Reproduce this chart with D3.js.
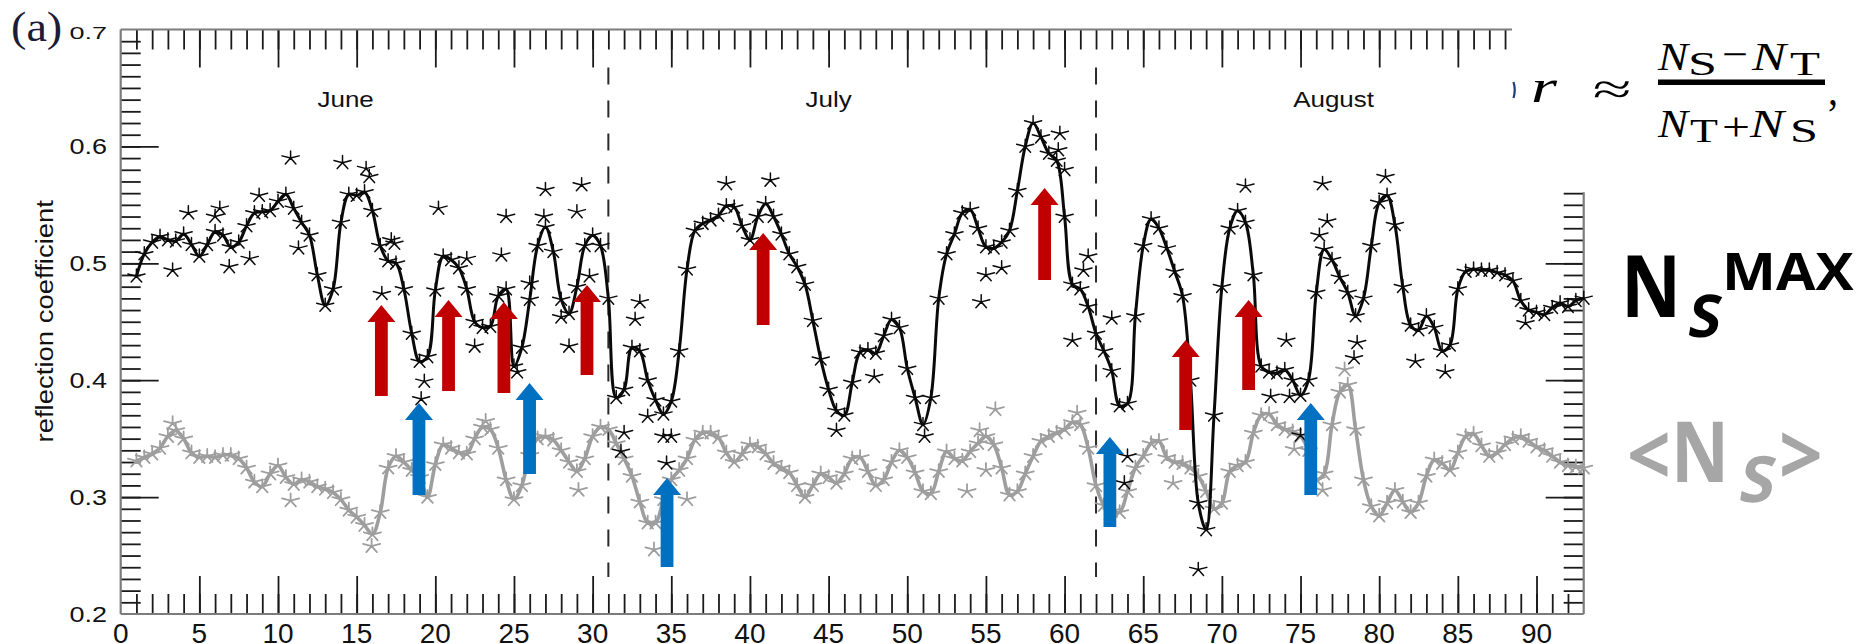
<!DOCTYPE html>
<html>
<head>
<meta charset="utf-8">
<script src="https://cdn.jsdelivr.net/npm/d3@7"></script>
<style>
  html, body { margin: 0; padding: 0; background: #fff; }
  svg { display: block; }
</style>
</head>
<body>
<svg id="chart" width="1856" height="644"></svg>
<script>
// ---------------------------------------------------------------
// Data: reflection coefficient, one sample every 12 h (day 1 .. 93)
// ---------------------------------------------------------------
const sampleDays = d3.range(1, 93.001, 0.5);

// N_S^MAX based reflection coefficient (black curve)
const nsMax = [
  0.489, 0.508, 0.518, 0.523, 0.520, 0.519, 0.525, 0.516, 0.506, 0.516,
  0.527, 0.524, 0.514, 0.518, 0.532, 0.543, 0.544, 0.545, 0.553, 0.559,
  0.547, 0.535, 0.524, 0.490, 0.464, 0.478, 0.535, 0.559, 0.558, 0.561,
  0.545, 0.515, 0.502, 0.500, 0.478, 0.440, 0.416, 0.420, 0.477, 0.506,
  0.503, 0.496, 0.478, 0.450, 0.445, 0.446, 0.472, 0.478, 0.412, 0.428,
  0.469, 0.515, 0.531, 0.510, 0.469, 0.457, 0.480, 0.515, 0.524, 0.515,
  0.470, 0.385, 0.392, 0.428, 0.425, 0.400, 0.383, 0.371, 0.382, 0.425,
  0.495, 0.528, 0.534, 0.537, 0.541, 0.549, 0.548, 0.532, 0.520, 0.540,
  0.551, 0.540, 0.525, 0.508, 0.497, 0.482, 0.451, 0.418, 0.392, 0.374,
  0.370, 0.398, 0.424, 0.426, 0.423, 0.438, 0.452, 0.445, 0.410, 0.385,
  0.362, 0.385, 0.470, 0.508, 0.525, 0.543, 0.546, 0.530, 0.514, 0.513,
  0.518, 0.528, 0.562, 0.600, 0.620, 0.608, 0.594, 0.588, 0.540, 0.482,
  0.478, 0.463, 0.440, 0.425, 0.408, 0.378, 0.380, 0.455, 0.515, 0.538,
  0.530, 0.513, 0.493, 0.472, 0.400, 0.295, 0.272, 0.370, 0.480, 0.530,
  0.545, 0.535, 0.490, 0.412, 0.407, 0.406, 0.409, 0.400, 0.387, 0.400,
  0.475, 0.512, 0.503, 0.488, 0.475, 0.455, 0.470, 0.515, 0.552, 0.558,
  0.533, 0.480, 0.447, 0.443, 0.455, 0.445, 0.425, 0.430, 0.478, 0.493,
  0.495, 0.494, 0.494, 0.492, 0.490, 0.485, 0.468, 0.460, 0.458, 0.456,
  0.462, 0.466, 0.463, 0.468, 0.470
];

// <N_S> based reflection coefficient (grey curve)
const nsMean = [
  0.331, 0.334, 0.337, 0.342, 0.352, 0.357, 0.350, 0.338, 0.334, 0.335,
  0.334, 0.336, 0.336, 0.333, 0.325, 0.313, 0.309, 0.320, 0.327, 0.317,
  0.311, 0.315, 0.313, 0.309, 0.307, 0.304, 0.298, 0.289, 0.283, 0.276,
  0.268, 0.287, 0.325, 0.335, 0.330, 0.323, 0.317, 0.300, 0.328, 0.345,
  0.342, 0.338, 0.337, 0.350, 0.360, 0.358, 0.342, 0.315, 0.298, 0.310,
  0.336, 0.350, 0.352, 0.349, 0.340, 0.330, 0.322, 0.333, 0.352, 0.360,
  0.358, 0.346, 0.333, 0.318, 0.296, 0.278, 0.278, 0.298, 0.315, 0.323,
  0.333, 0.349, 0.355, 0.355, 0.351, 0.338, 0.330, 0.337, 0.345, 0.343,
  0.337, 0.329, 0.325, 0.321, 0.310, 0.300, 0.310, 0.320, 0.317, 0.312,
  0.320, 0.333, 0.334, 0.322, 0.310, 0.315, 0.330, 0.340, 0.334, 0.321,
  0.305, 0.303, 0.322, 0.339, 0.333, 0.331, 0.339, 0.346, 0.352, 0.345,
  0.325, 0.302, 0.305, 0.320, 0.335, 0.348, 0.352, 0.355, 0.358, 0.364,
  0.362, 0.342, 0.310, 0.293, 0.288, 0.287, 0.305, 0.325, 0.335, 0.346,
  0.348, 0.334, 0.330, 0.329, 0.325, 0.318, 0.305, 0.290, 0.295, 0.322,
  0.327, 0.330, 0.355, 0.370, 0.371, 0.362, 0.358, 0.356, 0.352, 0.340,
  0.315, 0.320, 0.362, 0.390, 0.396, 0.358, 0.315, 0.292, 0.284, 0.295,
  0.306, 0.296, 0.287, 0.295, 0.318, 0.332, 0.329, 0.323, 0.338, 0.352,
  0.354, 0.344, 0.335, 0.338, 0.345, 0.350, 0.352, 0.348, 0.343, 0.340,
  0.335, 0.330, 0.327, 0.326, 0.325
];

// individual estimates lying away from the smoothed curves: [day, value]
const nsMaxScatter = [
  [3.3, 0.494], [4.3, 0.543], [6.0, 0.540], [6.3, 0.547], [6.9, 0.497],
  [8.2, 0.504], [8.8, 0.558], [10.8, 0.590], [11.3, 0.513], [14.1, 0.586],
  [15.6, 0.581], [15.8, 0.574], [16.6, 0.474], [17.2, 0.520], [17.4, 0.517],
  [19.1, 0.384], [19.3, 0.399], [20.2, 0.547], [22.0, 0.504], [22.5, 0.429],
  [24.2, 0.507], [24.5, 0.540], [25.2, 0.407], [26.0, 0.483], [26.9, 0.540],
  [27.0, 0.563], [28.0, 0.454], [28.5, 0.429], [29.0, 0.544], [29.3, 0.567],
  [29.8, 0.489], [31.8, 0.339], [32.0, 0.355], [32.7, 0.452], [33.0, 0.467],
  [33.5, 0.369], [34.5, 0.352], [34.7, 0.329], [35.0, 0.352], [38.5, 0.568],
  [41.3, 0.571], [45.5, 0.357], [47.9, 0.403], [51.1, 0.352], [54.7, 0.467],
  [55.0, 0.490], [56.0, 0.496], [59.6, 0.597], [59.7, 0.611], [60.0, 0.580],
  [60.5, 0.434], [61.2, 0.494], [61.5, 0.506], [63.0, 0.453], [63.8, 0.312],
  [64.0, 0.335], [68.5, 0.238], [71.5, 0.566], [73.1, 0.386], [74.1, 0.434],
  [74.3, 0.386], [75.0, 0.353], [76.2, 0.524], [76.4, 0.568], [76.7, 0.536],
  [78.4, 0.419], [78.6, 0.432], [80.4, 0.574], [82.3, 0.416], [84.2, 0.407],
  [89.3, 0.449]
];

const nsMeanScatter = [
  [3.3, 0.363], [10.8, 0.297], [15.95, 0.258], [23.2, 0.365], [29.1, 0.306],
  [33.9, 0.255], [36.0, 0.298], [53.8, 0.305], [54.6, 0.357], [55.0, 0.323],
  [55.6, 0.375], [60.8, 0.372], [66.9, 0.312], [74.6, 0.341], [76.4, 0.306],
  [77.8, 0.409]
];

// calendar annotation
const monthNames   = ["June", "July", "August"];
const monthCenters = [14.3, 45.0, 77.1];
const monthBreaks  = [31, 62];

// axis labelling
const xTickLabels = d3.range(0, 91, 5);
const yTickLabels = [0.2, 0.3, 0.4, 0.5, 0.6];
const yTopLabel   = 0.7;

// highlighted events: [day, arrow tip value, arrow base value]
const redArrows = [
  [16.57, 0.4643, 0.3865], [20.84, 0.4686, 0.3908], [24.36, 0.4669, 0.3891],
  [29.64, 0.4814, 0.4044], [40.84, 0.5259, 0.4472], [58.73, 0.5644, 0.4857],
  [67.70, 0.4344, 0.3574], [71.70, 0.4686, 0.3916]
];
const blueArrows = [
  [18.96, 0.3805, 0.3018], [25.99, 0.3976, 0.3198], [34.73, 0.3163, 0.2402],
  [62.88, 0.3514, 0.2744], [75.65, 0.3805, 0.3018]
];

// ---------------------------------------------------------------
// Layout and scales
// ---------------------------------------------------------------
const plot = { left: 120.7, right: 1583.7, top: 29.5, bottom: 614 };
const x = d3.scaleLinear().domain([0, 93]).range([plot.left, plot.right]);
const y = d3.scaleLinear().domain([0.2, 0.7]).range([plot.bottom, plot.top]);

const svg = d3.select("#chart");
const sansFont = "'Liberation Sans', Arial, Helvetica, sans-serif";

// ---------------------------------------------------------------
// Axes: inward minor / major ticks on all four sides
// ---------------------------------------------------------------
const tickColor = "#1a1a1a";
function drawAxis(axis, tx, ty) {
  const g = svg.append("g").attr("transform", `translate(${tx},${ty})`).call(axis);
  g.select(".domain").remove();
  g.selectAll(".tick line").attr("stroke", tickColor).attr("stroke-width", 1.8);
  g.selectAll(".tick text").remove();
  return g;
}
const minorDays = d3.range(1, 93);
const majorDays = d3.range(5, 91, 5);
const minorVals = d3.range(21, 70).map(v => v / 100);
const majorVals = [0.3, 0.4, 0.5, 0.6];
const topLimitDay = 88;        // top ticks end where the formula panel begins
const rightLimitVal = 0.56;    // right ticks start below the formula panel

drawAxis(d3.axisBottom(x).tickValues(minorDays).tickSize(-20), 0, plot.bottom);
drawAxis(d3.axisBottom(x).tickValues(majorDays).tickSize(-38), 0, plot.bottom);
drawAxis(d3.axisTop(x).tickValues(minorDays.filter(d => d <= topLimitDay)).tickSize(-20), 0, plot.top);
drawAxis(d3.axisTop(x).tickValues(majorDays.filter(d => d <= topLimitDay)).tickSize(-38), 0, plot.top);
drawAxis(d3.axisLeft(y).tickValues(minorVals).tickSize(-20), plot.left, 0);
drawAxis(d3.axisLeft(y).tickValues(majorVals).tickSize(-38), plot.left, 0);
drawAxis(d3.axisRight(y).tickValues(minorVals.filter(v => v <= rightLimitVal + 1e-9)).tickSize(-20), plot.right, 0);
drawAxis(d3.axisRight(y).tickValues(majorVals.filter(v => v <= rightLimitVal)).tickSize(-38), plot.right, 0);

// frame
const frame = svg.append("g").attr("stroke", "#7c7c7c").attr("stroke-width", 2.2).attr("fill", "none");
frame.append("line").attr("x1", plot.left).attr("x2", plot.left).attr("y1", plot.top).attr("y2", plot.bottom);
frame.append("line").attr("x1", plot.left).attr("x2", plot.right).attr("y1", plot.bottom).attr("y2", plot.bottom);
frame.append("line").attr("x1", plot.right).attr("x2", plot.right).attr("y1", y(rightLimitVal) - 1).attr("y2", plot.bottom);
frame.append("line").attr("x1", plot.left).attr("x2", x(topLimitDay) + 7).attr("y1", plot.top).attr("y2", plot.top);

// tick labels
svg.append("g").selectAll("text").data(xTickLabels).join("text")
  .attr("transform", d => `translate(${x(d)},643)`)
  .attr("text-anchor", "middle")
  .attr("font-family", sansFont).attr("font-size", 28).attr("fill", "#111")
  .text(d => d);

svg.append("g").selectAll("text").data(yTickLabels).join("text")
  .attr("transform", d => `translate(107,${y(d)}) scale(1,0.8)`)
  .attr("text-anchor", "end").attr("dy", "0.36em")
  .attr("font-family", sansFont).attr("font-size", 27).attr("fill", "#111")
  .text(d => d3.format(".1f")(d));

svg.append("text")
  .attr("transform", `translate(107,${y(yTopLabel) + 3.5}) scale(1,0.62)`)
  .attr("text-anchor", "end").attr("dy", "0.36em")
  .attr("font-family", sansFont).attr("font-size", 27).attr("fill", "#111")
  .text(d3.format(".1f")(yTopLabel));

// y axis title
svg.append("text")
  .attr("transform", `translate(53,${(plot.top + plot.bottom) / 2 - 0.5}) rotate(-90) scale(1,0.9)`)
  .attr("text-anchor", "middle")
  .attr("font-family", sansFont).attr("font-size", 27.5).attr("fill", "#111")
  .text("reflection coefficient");

// panel tag
svg.append("text")
  .attr("transform", "translate(11,41) scale(1.1,1)")
  .attr("font-family", "'Liberation Serif', 'Times New Roman', serif")
  .attr("font-size", 42).attr("fill", "#1c1c38")
  .text("(a)");

// ---------------------------------------------------------------
// Month separators and names
// ---------------------------------------------------------------
svg.append("g").selectAll("line").data(monthBreaks).join("line")
  .attr("x1", d => x(d)).attr("x2", d => x(d))
  .attr("y1", plot.top + 38).attr("y2", plot.bottom - 37)
  .attr("stroke", "#2a2a2a").attr("stroke-width", 2)
  .attr("stroke-dasharray", "17,16");

svg.append("g").selectAll("text").data(monthNames).join("text")
  .attr("transform", (d, i) => `translate(${x(monthCenters[i])},107) scale(1,0.88)`)
  .attr("text-anchor", "middle")
  .attr("font-family", sansFont).attr("font-size", 26).attr("fill", "#111")
  .text(d => d);

// ---------------------------------------------------------------
// Series: smoothed curves with asterisk markers
// ---------------------------------------------------------------
const asterisk = {
  draw(context, size) {
    const r = Math.sqrt(size);
    for (let k = 0; k < 5; k++) {
      const a = -Math.PI / 2 + k * 2 * Math.PI / 5;
      context.moveTo(0, 0);
      context.lineTo(r * Math.cos(a), r * Math.sin(a) * 0.8);
    }
  }
};
const starPath = d3.symbol().type(asterisk).size(81)();

const line = d3.line()
  .x(d => x(d[0])).y(d => y(d[1]))
  .curve(d3.curveCatmullRom.alpha(0.5));

function drawSeries(values, scatter, color, lineWidth, starWidth) {
  const pts = sampleDays.map((d, i) => [d, values[i]]);
  const g = svg.append("g");
  g.append("path").datum(pts)
    .attr("d", line).attr("fill", "none")
    .attr("stroke", color).attr("stroke-width", lineWidth)
    .attr("stroke-linejoin", "round");
  g.selectAll("path.star").data(pts.concat(scatter)).join("path")
    .attr("class", "star")
    .attr("d", starPath)
    .attr("transform", d => `translate(${x(d[0])},${y(d[1])})`)
    .attr("fill", "none").attr("stroke", color).attr("stroke-width", starWidth)
    .attr("stroke-linecap", "round");
}
drawSeries(nsMean, nsMeanScatter, "#9e9e9e", 3.6, 1.8);
drawSeries(nsMax, nsMaxScatter, "#0a0a0a", 3.0, 1.5);

// ---------------------------------------------------------------
// Event arrows
// ---------------------------------------------------------------
function arrowPath(d) {
  const cx = x(d[0]), yt = y(d[1]), yb = y(d[2]);
  const sw = 6.4, hw = 14, hh = 17;
  return `M${cx - sw},${yb} L${cx - sw},${yt + hh} L${cx - hw},${yt + hh} L${cx},${yt} ` +
         `L${cx + hw},${yt + hh} L${cx + sw},${yt + hh} L${cx + sw},${yb} Z`;
}
svg.append("g").selectAll("path").data(redArrows).join("path")
  .attr("d", arrowPath).attr("fill", "#c00000");
svg.append("g").selectAll("path").data(blueArrows).join("path")
  .attr("d", arrowPath).attr("fill", "#0070c0");

// ---------------------------------------------------------------
// Formula panel and series names on the right
// ---------------------------------------------------------------
svg.append("rect").attr("x", x(topLimitDay) + 8).attr("y", 0)
  .attr("width", 1856 - x(topLimitDay) - 8).attr("height", y(rightLimitVal) - 1.5)
  .attr("fill", "#fff");

svg.append("path").attr("d", "M1513.5,82 Q1516,90 1513.5,98")
  .attr("fill", "none").attr("stroke", "#1d3d7a").attr("stroke-width", 2.2);

const serif = "'Liberation Serif', 'DejaVu Serif', 'Times New Roman', serif";
const eq = svg.append("g").attr("font-family", serif).attr("fill", "#000");
function glyph(str, gx, gy, size, width, italic) {
  return eq.append("text").attr("x", gx).attr("y", gy)
    .attr("font-size", size)
    .attr("font-style", italic ? "italic" : "normal")
    .attr("textLength", width).attr("lengthAdjust", "spacingAndGlyphs")
    .text(str);
}
glyph("r", 1531, 102, 46, 26, true);
eq.append("text").attr("transform", "translate(1612,104) scale(1.6,1)")
  .attr("text-anchor", "middle").attr("font-size", 44).text("≈");
eq.append("rect").attr("x", 1658).attr("y", 79.5).attr("width", 167).attr("height", 5.5);
// numerator
glyph("N", 1658, 70, 41, 30, true);
glyph("S", 1688, 75, 33, 29, false);
glyph("−", 1722, 68, 41, 26, false);
glyph("N", 1752, 70, 41, 34, true);
glyph("T", 1790, 75, 33, 30, false);
// denominator
glyph("N", 1658, 137, 41, 30, true);
glyph("T", 1690, 142, 33, 28, false);
glyph("+", 1722, 140, 41, 28, false);
glyph("N", 1750, 137, 41, 34, true);
glyph("S", 1790, 142, 33, 28, false);
glyph(",", 1828, 105, 44, 10, false);

// series names
const labelFont = "'Open Sans', 'Noto Sans', sans-serif";
function label(group, str, tx, ty, size, sx, skew) {
  return group.append("text")
    .attr("transform", `translate(${tx},${ty}) scale(${sx},1)` + (skew ? ` skewX(${skew})` : ""))
    .attr("font-size", size).text(str);
}
const maxLabel = svg.append("g").attr("font-family", labelFont).attr("font-weight", 700).attr("fill", "#000");
label(maxLabel, "N", 1621, 317, 87, 0.85, 0);
label(maxLabel, "S", 1686, 337, 59, 1.0, -9);
label(maxLabel, "MAX", 1722, 290, 52, 1.1, 0);

const meanLabel = svg.append("g").attr("font-family", labelFont).attr("font-weight", 700).attr("fill", "#a6a6a6");
label(meanLabel, "<", 1627, 485, 85, 0.9, 0);
label(meanLabel, "N", 1671, 482, 84, 0.85, 0);
label(meanLabel, "S", 1737, 502, 64, 1.0, -9);
label(meanLabel, ">", 1779, 485, 85, 0.9, 0);
</script>
</body>
</html>
